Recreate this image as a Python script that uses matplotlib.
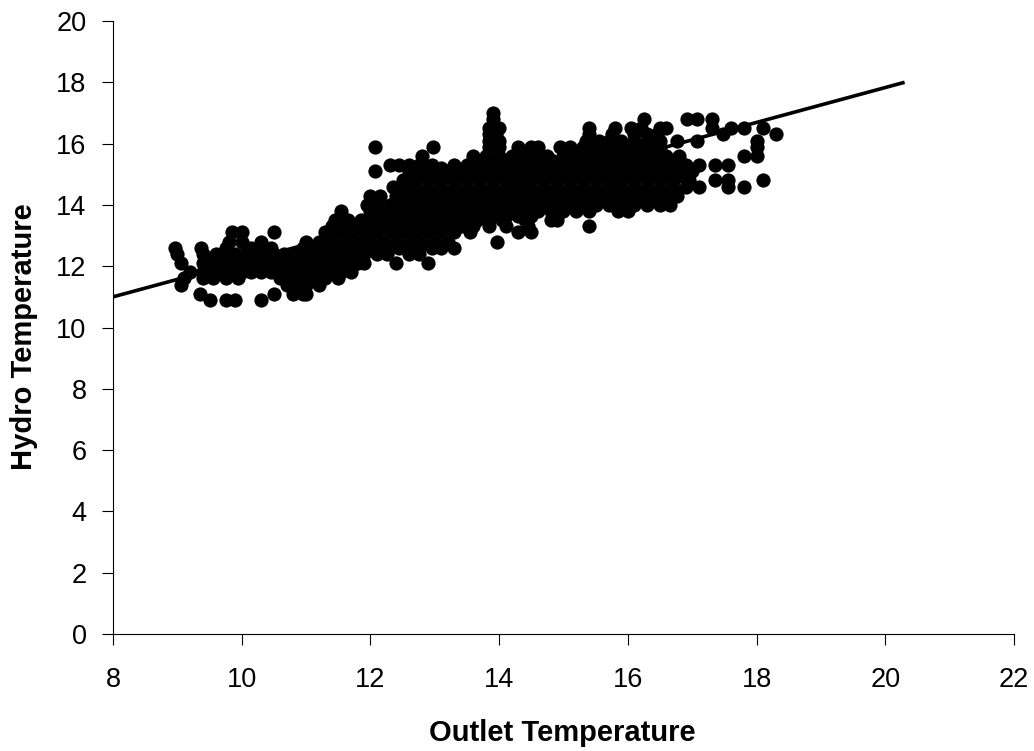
import matplotlib
matplotlib.use("Agg")
import matplotlib.pyplot as plt

plt.rcParams['font.family'] = ['Liberation Sans', 'DejaVu Sans']

# hydro level -> outlet temperatures, one list per level
hydro_levels = [10.9, 11.1, 11.4, 11.6, 11.8, 12.1, 12.4, 12.6, 12.8, 13.1, 13.3, 13.5, 13.65, 13.8,
                14.0, 14.15, 14.3, 14.45, 14.6, 14.8, 14.95, 15.1, 15.2, 15.3, 15.45, 15.6, 15.9, 16.1,
                16.3, 16.5, 16.8, 17.0]
outlet_rows = [
    [9.5, 9.75, 9.9, 10.3],
    [9.35, 10.5, 10.8, 10.95, 11.0],
    [9.05, 10.7, 10.85, 11.0, 11.2],
    [9.1, 9.4, 9.55, 9.75, 9.95, 10.6, 10.8, 10.95, 11.1, 11.3, 11.5],
    [9.2, 9.4, 9.55, 9.7, 9.85, 10.0, 10.15, 10.3, 10.45, 10.6, 10.75, 10.9, 11.1, 11.25, 11.4, 11.55, 11.7],
    [9.05, 9.4, 9.55, 9.7, 9.85, 10.0, 10.15, 10.3, 10.45, 10.6, 10.75, 10.9, 11.05, 11.2, 11.35, 11.5,
     11.65, 11.8, 11.9, 12.4, 12.9],
    [9.0, 9.4, 9.6, 9.75, 9.9, 10.05, 10.2, 10.35, 10.5, 10.65, 10.85, 11.0, 11.15, 11.3, 11.45, 11.6,
     11.75, 11.9, 12.1, 12.25, 12.6, 12.75],
    [8.97, 9.37, 9.75, 10.15, 10.3, 10.45, 10.95, 11.1, 11.25, 11.4, 11.55, 11.7, 11.85, 12.0, 12.15, 12.3,
     12.45, 12.6, 12.75, 12.95, 13.1, 13.3],
    [9.8, 10.0, 10.3, 11.0, 11.2, 11.4, 11.6, 11.8, 12.0, 12.2, 12.4, 12.6, 12.8, 13.0, 13.2, 13.97],
    [9.85, 10.0, 10.5, 11.3, 11.5, 11.7, 11.9, 12.1, 12.3, 12.5, 12.7, 12.9, 13.1, 13.3, 13.55, 14.3, 14.5],
    [11.4, 11.6, 11.8, 12.0, 12.2, 12.4, 12.6, 12.8, 13.0, 13.2, 13.4, 13.6, 13.85, 14.1, 14.45, 15.4],
    [11.45, 11.65, 11.85, 12.05, 12.25, 12.45, 12.65, 12.85, 13.05, 13.25, 13.45, 13.65, 13.85, 14.05, 14.4,
     14.8, 14.9],
    [12.0, 12.3, 12.5, 12.7, 12.9, 13.1, 13.3, 13.5, 13.7, 13.9, 14.1, 14.3, 14.5],
    [11.55, 12.0, 12.2, 12.4, 12.6, 12.8, 13.0, 13.2, 13.4, 13.6, 13.8, 14.0, 14.2, 14.4, 14.6, 14.8, 15.0,
     15.2, 15.4, 15.85, 16.0],
    [11.95, 12.1, 12.3, 12.5, 12.7, 12.9, 13.1, 13.3, 13.5, 13.7, 13.9, 14.1, 14.3, 14.5, 14.7, 14.9, 15.1,
     15.3, 15.5, 15.7, 15.9, 16.1, 16.3, 16.5, 16.65],
    [12.4, 12.6, 12.8, 13.0, 13.2, 13.4, 13.6, 13.8, 14.0, 14.2, 14.4, 14.6, 14.8, 15.0, 15.2, 15.4, 15.6,
     15.8, 16.0, 16.2, 16.4],
    [12.0, 12.15, 12.4, 12.6, 12.8, 13.0, 13.2, 13.4, 13.6, 13.8, 14.0, 14.2, 14.4, 14.6, 14.8, 15.0, 15.2,
     15.4, 15.6, 15.8, 16.0, 16.2, 16.4, 16.6, 16.77],
    [12.5, 12.7, 12.9, 13.1, 13.3, 13.5, 13.7, 13.9, 14.1, 14.3, 14.5, 14.7, 14.9, 15.1, 15.3, 15.5, 15.7,
     15.9, 16.1, 16.3, 16.5, 16.7],
    [12.35, 12.5, 12.7, 12.9, 13.1, 13.3, 13.5, 13.7, 13.9, 14.1, 14.3, 14.5, 14.7, 14.9, 15.1, 15.3, 15.5,
     15.7, 15.9, 16.1, 16.3, 16.5, 16.7, 16.9, 17.1, 17.55, 17.8],
    [12.5, 12.7, 12.9, 13.1, 13.3, 13.5, 13.7, 13.9, 14.1, 14.3, 14.5, 14.7, 14.9, 15.1, 15.3, 15.5, 15.7,
     15.9, 16.1, 16.3, 16.5, 16.7, 16.95, 17.35, 17.55, 18.1],
    [12.6, 12.8, 13.0, 13.2, 13.4, 13.6, 13.8, 14.0, 14.2, 14.4, 14.6, 14.8, 15.0, 15.2, 15.4, 15.6, 15.8,
     16.0, 16.2, 16.4, 16.6, 16.8],
    [12.07, 12.6, 12.8, 13.0, 13.2, 13.4, 13.6, 13.8, 14.0, 14.2, 14.4, 14.6, 14.8, 15.0, 15.2, 15.4, 15.6,
     15.8, 16.0, 16.2, 16.4, 16.6, 16.8, 17.0],
    [12.7, 12.9, 13.1, 13.3, 13.5, 13.7, 13.9, 14.1, 14.3, 14.5, 14.7, 14.9, 15.1, 15.3, 15.5, 15.7, 15.9,
     16.1, 16.3, 16.5, 16.7, 16.9],
    [12.3, 12.45, 12.6, 12.75, 12.95, 13.3, 13.5, 13.7, 13.9, 14.1, 14.3, 14.5, 14.7, 14.9, 15.1, 15.3, 15.5,
     15.7, 15.9, 16.1, 16.3, 16.5, 16.7, 16.9, 17.1, 17.35, 17.55],
    [13.6, 13.8, 14.0, 14.2, 14.4, 14.6, 14.8, 15.0, 15.2, 15.4, 15.6, 15.8, 16.0, 16.2, 16.4, 16.6, 16.8],
    [12.8, 13.6, 13.8, 14.0, 14.2, 14.35, 14.55, 14.75, 15.0, 15.2, 15.4, 15.6, 15.8, 16.0, 16.2, 16.4,
     16.6, 16.8, 17.8, 18.0],
    [12.07, 12.97, 13.85, 14.0, 14.3, 14.5, 14.6, 14.95, 15.1, 15.3, 15.5, 15.7, 15.9, 16.1, 16.3, 16.5, 18.0],
    [13.85, 14.0, 15.35, 15.55, 15.7, 15.9, 16.1, 16.3, 16.5, 16.77, 17.07, 18.0],
    [13.85, 13.95, 15.4, 15.75, 16.1, 16.3, 16.45, 17.48, 18.3],
    [13.85, 14.0, 15.4, 15.8, 16.05, 16.2, 16.5, 16.6, 17.3, 17.6, 17.8, 18.1],
    [13.9, 16.25, 16.92, 17.07, 17.3],
    [13.9],
]
fit_outlet = [8.0, 20.3]
fit_hydro = [11.0, 18.0]
x_ticks = [8, 10, 12, 14, 16, 18, 20, 22]
y_ticks = [0, 2, 4, 6, 8, 10, 12, 14, 16, 18, 20]

fig = plt.figure(figsize=(10.34, 7.51), dpi=100)
ax = fig.add_axes([113 / 1034, 1 - 634 / 751, 901 / 1034, 613 / 751])

for level, row in zip(hydro_levels, outlet_rows):
    ax.scatter(row, [level] * len(row), s=105, c='black', linewidths=0, zorder=3, clip_on=False)
ax.plot(fit_outlet, fit_hydro, color='black', lw=2.6, solid_capstyle='butt', zorder=4)

ax.set_xlim(8, 22)
ax.set_ylim(0, 20)
ax.set_xticks(x_ticks)
ax.set_yticks(y_ticks)
ax.spines['top'].set_visible(False)
ax.spines['right'].set_visible(False)
ax.tick_params(length=8, width=0.8, labelsize=19.5)
ax.tick_params(axis='x', pad=16)
ax.tick_params(axis='y', pad=11)

fig.text(562 / 1034, 1 - 733 / 751, 'Outlet Temperature', fontsize=21, fontweight='bold',
         ha='center', va='center')
fig.text(24 / 1034, 1 - 337 / 751, 'Hydro Temperature', fontsize=21, fontweight='bold',
         ha='center', va='center', rotation=90)

fig.savefig('out.png', dpi=100)
